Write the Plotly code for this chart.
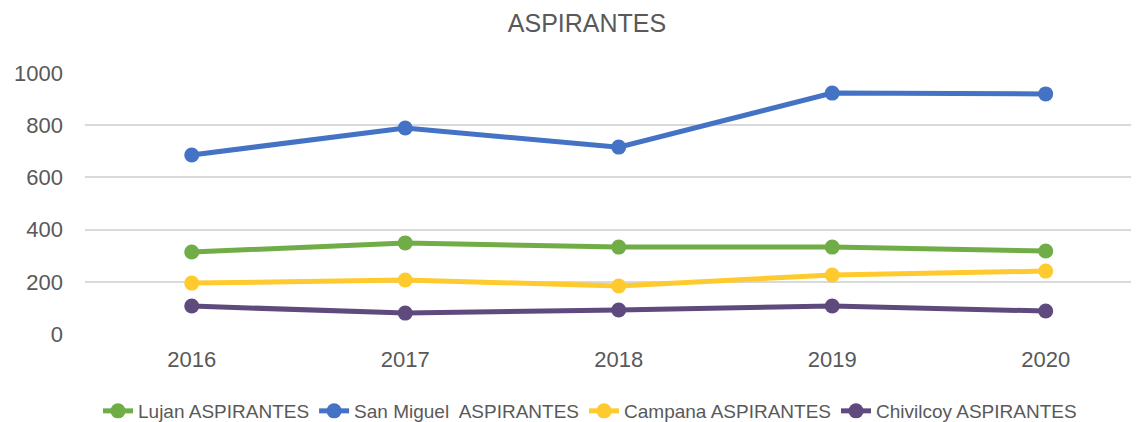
import plotly.graph_objects as go

years = ["2016", "2017", "2018", "2019", "2020"]
lujan = [314, 349, 333, 333, 318]
san_miguel = [686, 789, 716, 923, 920]
campana = [195, 207, 184, 226, 241]
chivilcoy = [107, 80, 92, 107, 88]

series = [
    ("Lujan ASPIRANTES", lujan, "#70AD47"),
    ("San Miguel\u00a0 ASPIRANTES", san_miguel, "#4472C4"),
    ("Campana ASPIRANTES", campana, "#FFCA2E"),
    ("Chivilcoy ASPIRANTES", chivilcoy, "#5E4A7D"),
]

fig = go.Figure()
for name, vals, col in series:
    fig.add_trace(go.Scatter(
        x=years, y=vals, name=name, mode="lines+markers",
        line=dict(color=col, width=5),
        marker=dict(color=col, size=15),
    ))

W, H = 1131, 414  # page body adds an 8px offset
fig.update_layout(
    width=W, height=H,
    margin=dict(l=77, r=0, t=65, b=88),
    paper_bgcolor="white", plot_bgcolor="white",
    font=dict(family="Liberation Sans, Arial, sans-serif", color="#595959"),
    title=dict(text="ASPIRANTES", x=579 / W, xref="container", xanchor="center",
               y=1 - 15 / H, yref="container", yanchor="middle",
               font=dict(size=25, color="#595959")),
    showlegend=True,
    legend=dict(orientation="h", xref="container", yref="container",
                x=582 / W, y=1 - 403 / H, xanchor="center", yanchor="middle",
                font=dict(family="Liberation Sans, Arial", size=19, color="#595959"),
                tracegroupgap=0),
    xaxis=dict(type="category", range=[-0.5, 4.437], showgrid=False, zeroline=False,
               showline=False, tickfont=dict(size=22, color="#595959"), ticks="",
               ticklabelstandoff=10),
    yaxis=dict(range=[0, 1000], tickvals=[0, 200, 400, 600, 800, 1000],
               showgrid=True, gridcolor="#D9D9D9", gridwidth=2, zeroline=False,
               showline=False, tickfont=dict(size=22, color="#595959"), ticks="",
               ticklabelstandoff=21),
)

fig.write_html("out.html")
